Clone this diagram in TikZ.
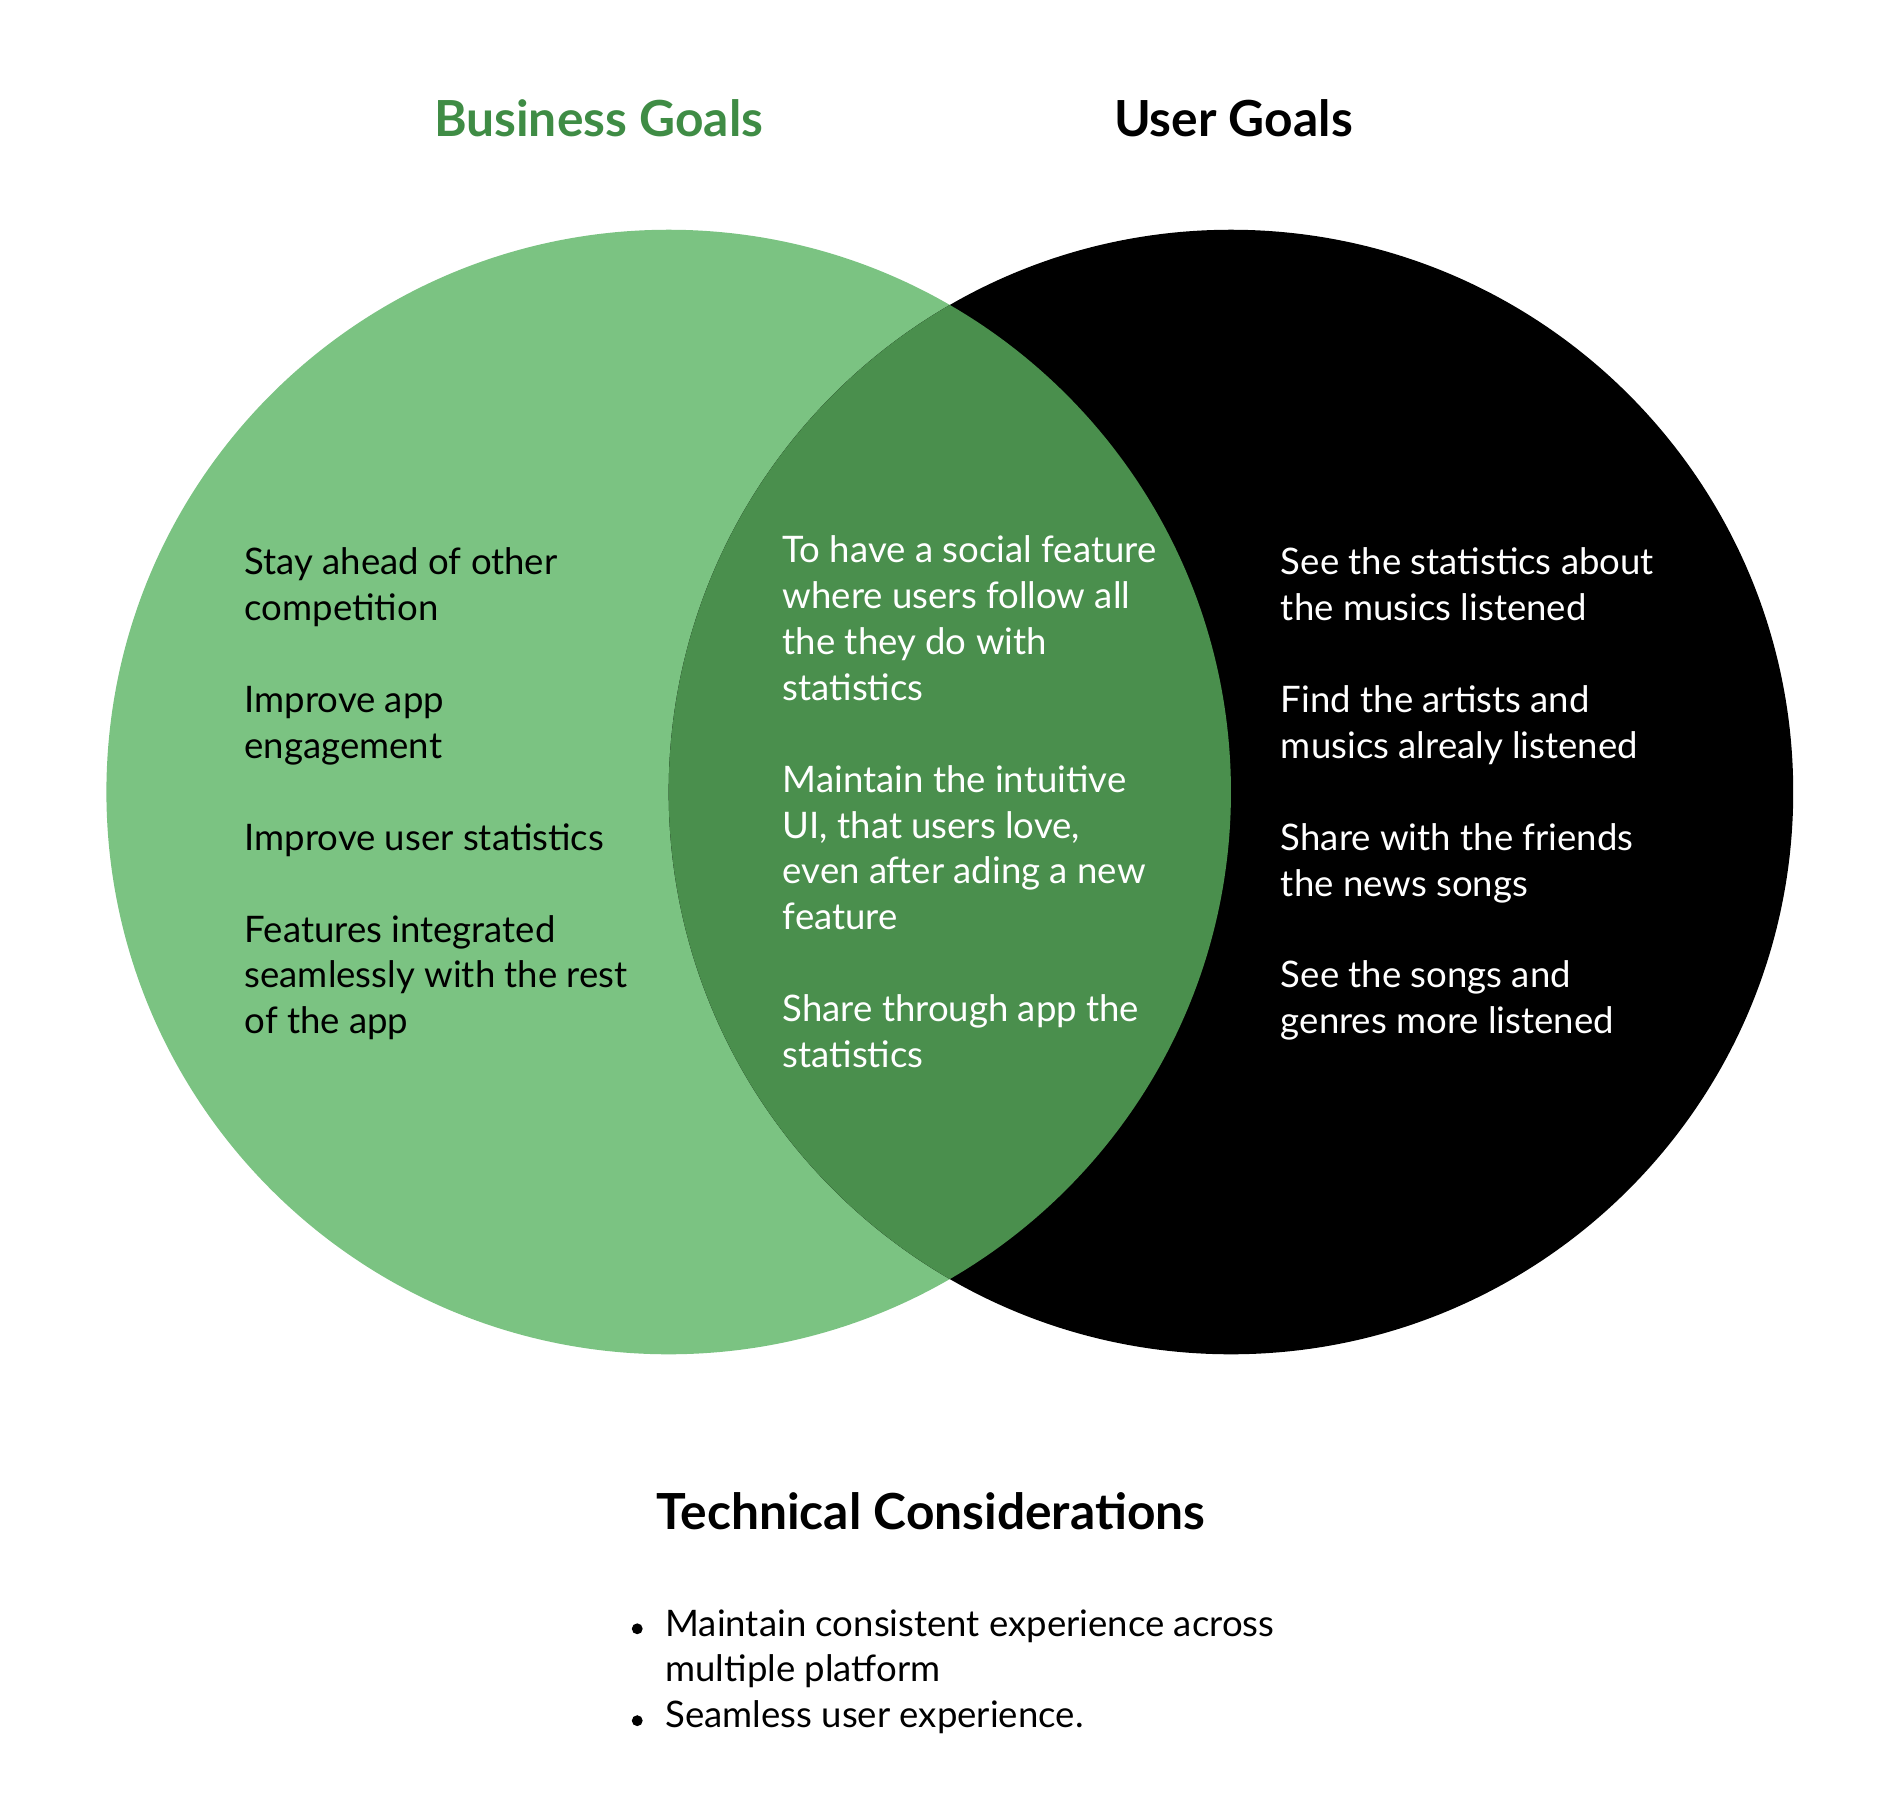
\documentclass[tikz,border=0pt]{standalone}
\usepackage{fontspec}
\setmainfont{Lato}
\usetikzlibrary{positioning}
\definecolor{bizlight}{HTML}{7BC382}
\definecolor{bizdark}{HTML}{4A8F4D}
\definecolor{biztitle}{HTML}{3F8C45}
\tikzset{
  goal/.style={anchor=base west, align=left, inner sep=0pt, font=\fontsize{17.2}{21.6}\selectfont},
  head/.style={anchor=base, inner sep=0pt, font=\fontsize{23.4}{27}\selectfont\bfseries},
}
\begin{document}
\begin{tikzpicture}[x=0.02cm, y=-0.02cm]
\useasboundingbox (0,0) rectangle (1568,1500);
% circles
\fill[bizlight] (553,655) circle (465);
\fill[black] (1018,655) circle (465);
\begin{scope}
  \clip (553,655) circle (465);
  \fill[bizdark] (1018,655) circle (465);
\end{scope}
% titles
\node[head, text=biztitle] (bizhead) at (495,113) {Business Goals};
\node[head] (userhead) at (1020,113) {User Goals};
% business goals (placed by last line)
\node[goal] (biz1) at (202,513) {Stay ahead of other\\competition};
\node[goal] (biz2) at (202,627) {Improve app\\engagement};
\node[goal] (biz3) at (202,703) {Improve user statistics};
\node[goal] (biz4) at (202,855) {Features integrated\\seamlessly with the rest\\of the app};
% shared goals
\node[goal, text=white] (both1) at (647,579) {To have a social feature\\where users follow all\\the they do with\\statistics};
\node[goal, text=white] (both2) at (647,769) {Maintain the intuitive\\UI, that users love,\\even after ading a new\\feature};
\node[goal, text=white] (both3) at (647,883) {Share through app the\\statistics};
% user goals
\node[goal, text=white] (user1) at (1059,513) {See the statistics about\\the musics listened};
\node[goal, text=white] (user2) at (1059,627) {Find the artists and\\musics alrealy listened};
\node[goal, text=white] (user3) at (1059,741) {Share with the friends\\the news songs};
\node[goal, text=white] (user4) at (1059,855) {See the songs and\\genres more listened};
% technical
\node[head] (techhead) at (770,1265) {Technical Considerations};
\node[goal] (tech1) at (550,1391) {Maintain consistent experience across\\multiple platform};
\node[goal] (tech2) at (550,1429) {Seamless user experience.};
\fill (527,1347) circle (4.5);
\fill (527,1423) circle (4.5);
\end{tikzpicture}
\end{document}
